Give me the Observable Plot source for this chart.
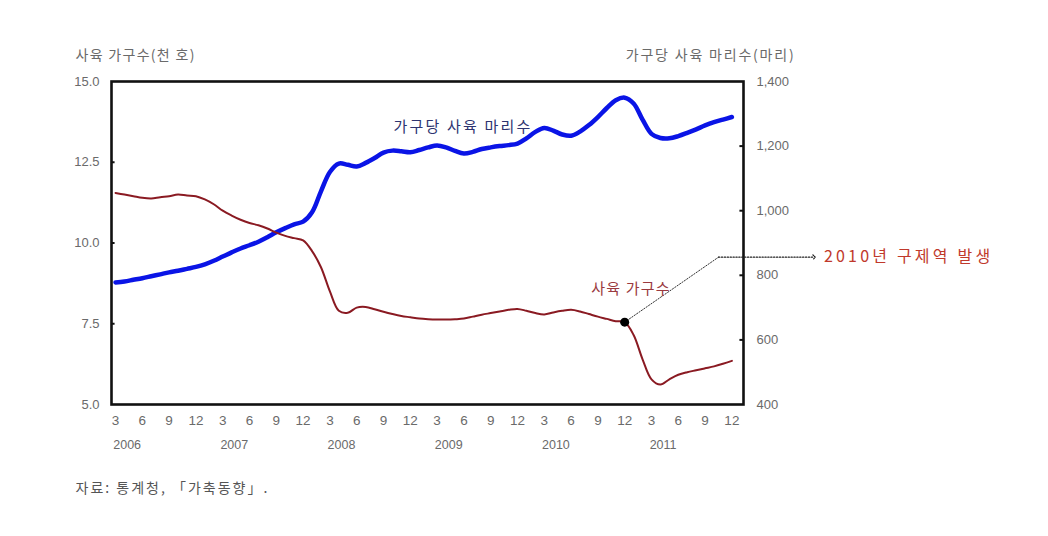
<!DOCTYPE html>
<html>
<head>
<meta charset="utf-8">
<script src="https://cdn.jsdelivr.net/npm/d3@7"></script>
<script src="https://cdn.jsdelivr.net/npm/@observablehq/plot@0.6"></script>
<style>
  body { margin: 0; background: #fff; }
  #chart svg { display: block; }
  .ls1 text { letter-spacing: 1.3px; }
  .ls2 text { letter-spacing: 1.8px; }
  .ls3 text { letter-spacing: 2.2px; }
  .ls4 text { letter-spacing: 3.2px; }
  .ls5 text { letter-spacing: 1.2px; }
  .ls6 text { letter-spacing: 2px; }
</style>
</head>
<body>
<div id="chart"></div>
<script>
// Month index t = (year - 2006) * 12 + month
const months = d3.range(3, 73);
// 사육 가구수 (천 호) — left axis
const households = [
  11.55, 11.50, 11.45, 11.40, 11.38, 11.42, 11.45, 11.50, 11.47, 11.45,
  11.35, 11.20, 11.00, 10.85, 10.72, 10.62, 10.55, 10.45, 10.32, 10.22, 10.15, 10.08,
  9.75, 9.25, 8.50, 7.90, 7.84, 8.00, 8.02, 7.95, 7.87, 7.80, 7.74, 7.70,
  7.66, 7.64, 7.63, 7.63, 7.64, 7.66, 7.72, 7.78, 7.83, 7.88, 7.93, 7.96,
  7.90, 7.83, 7.79, 7.85, 7.90, 7.93, 7.88, 7.80, 7.72, 7.65, 7.58, 7.55,
  7.15, 6.40, 5.78, 5.62, 5.78, 5.92, 6.00, 6.06, 6.12, 6.18, 6.26, 6.35
];
// 가구당 사육 마리수 (마리) — right axis
const perHousehold = [
  778, 781, 786, 791, 797, 803, 809, 814, 820, 826,
  834, 845, 858, 871, 883, 893, 904, 918, 933, 946, 958, 966,
  995, 1060, 1120, 1146, 1142, 1137, 1148, 1163, 1180, 1186, 1184, 1181,
  1188, 1196, 1202, 1196, 1185, 1177, 1182, 1191, 1196, 1200, 1203, 1208,
  1224, 1244, 1256, 1248, 1236, 1232, 1245, 1265, 1290, 1318, 1342, 1350,
  1332, 1282, 1238, 1225, 1224, 1231, 1241, 1252, 1264, 1274, 1282, 1290
];
const years = [2006, 2007, 2008, 2009, 2010, 2011];
const quarterTicks = d3.range(3, 73, 3);
const leftTicks = [5, 7.5, 10, 12.5, 15];
const rightTicks = [400, 600, 800, 1000, 1200, 1400];

// right axis value -> left scale
const toLeft = v => 5 + (v - 400) / 100;

const redData = months.map((t, i) => ({t, v: households[i]}));
const blueData = months.map((t, i) => ({t, v: toLeft(perHousehold[i])}));

const outbreak = {t: 60, v: households[months.indexOf(60)]};
const bend = {t: 70.5, v: 9.56};
const arrowEnd = {t: 81.2, v: 9.56};

const numFont = "'Liberation Sans', Arial, 'Noto Sans CJK KR', sans-serif";
const krFont = "'Noto Sans CJK KR', 'Liberation Sans', sans-serif";
const grey = "#6a6a6a";

const chart = Plot.plot({
  width: 1048,
  height: 536,
  marginLeft: 111,
  marginRight: 305,
  marginTop: 81,
  marginBottom: 132,
  style: {fontFamily: numFont, background: "#fff", overflow: "visible"},
  x: {domain: [2.55, 73.3]},
  y: {domain: [5, 15]},
  marks: [
    // left axis labels
    Plot.axisY({
      anchor: "left", ticks: leftTicks, tickSize: 0, tickPadding: 12,
      tickFormat: d3.format(".1f"), fontSize: 13, color: grey, label: null
    }),
    // right axis labels
    Plot.axisY({
      anchor: "right", ticks: rightTicks.map(toLeft), tickSize: 0, tickPadding: 13,
      tickFormat: d => d3.format(",")(Math.round((d - 5) * 100 + 400)),
      fontSize: 13, color: grey, label: null
    }),
    // month labels
    Plot.axisX({
      ticks: quarterTicks, tickSize: 0, tickPadding: 11,
      tickFormat: d => ((d - 1) % 12) + 1, fontSize: 13.5, color: grey, label: null
    }),
    // year labels
    Plot.text(years, {
      x: y => (y - 2006) * 12 + 4.3, frameAnchor: "bottom", dy: 44,
      text: d => String(d), fontSize: 12.5, fill: grey, fontFamily: numFont
    }),
    // small inner ticks
    Plot.ruleY([7.5, 10, 12.5], {x1: 2.55, x2: 2.95, stroke: "#111", strokeWidth: 2}),
    Plot.ruleY(rightTicks.slice(1, -1).map(toLeft), {x1: 72.9, x2: 73.3, stroke: "#111", strokeWidth: 2}),
    Plot.frame({stroke: "#111", strokeWidth: 2.6}),
    // series
    Plot.line(blueData, {x: "t", y: "v", stroke: "#0a14e6", strokeWidth: 4.5, curve: "catmull-rom"}),
    Plot.line(redData, {x: "t", y: "v", stroke: "#8a1a22", strokeWidth: 2, curve: "catmull-rom"}),
    // annotation
    Plot.line([outbreak, bend], {x: "t", y: "v", stroke: "#333", strokeWidth: 1, strokeDasharray: "1.3,1.6"}),
    Plot.line([bend, arrowEnd], {x: "t", y: "v", stroke: "#222", strokeWidth: 1.2, strokeDasharray: "1.3,1.6", markerEnd: "arrow"}),
    Plot.dot([outbreak], {x: "t", y: "v", r: 4.5, fill: "#000"}),
    Plot.text(["2010년 구제역 발생"], {
      x: 82.3, y: 9.56, textAnchor: "start", fill: "#c0392b", fontSize: 16, fontFamily: krFont, className: "ls4"
    }),
    // series labels
    Plot.text(["가구당 사육 마리수"], {
      x: 41.9, y: 13.58, fill: "#2e3470", fontSize: 15, fontFamily: krFont, className: "ls3"
    }),
    Plot.text(["사육 가구수"], {
      x: 60.7, y: 8.56, fill: "#9a3a40", fontSize: 15, fontFamily: krFont, className: "ls5"
    }),
    // axis titles
    Plot.text(["사육 가구수(천 호)"], {
      frameAnchor: "top-left", dx: -36, dy: -31, textAnchor: "start",
      fill: grey, fontSize: 14, fontFamily: krFont, className: "ls1"
    }),
    Plot.text(["가구당 사육 마리수(마리)"], {
      frameAnchor: "top-right", dx: 52, dy: -31, textAnchor: "end",
      fill: grey, fontSize: 14, fontFamily: krFont, className: "ls2"
    }),
    // source
    Plot.text(["자료: 통계청, 「가축동향」."], {
      frameAnchor: "bottom-left", dx: -36, dy: 88, textAnchor: "start",
      fill: "#555", fontSize: 14, fontFamily: krFont, className: "ls6"
    })
  ]
});
document.getElementById("chart").append(chart);
</script>
</body>
</html>
